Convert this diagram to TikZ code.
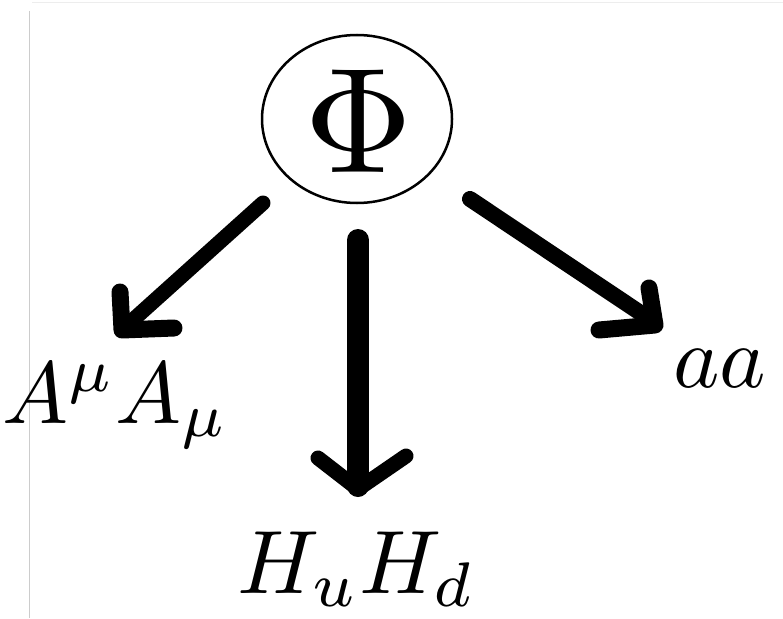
\documentclass[tikz,border=0pt]{standalone}
\usetikzlibrary{shapes.geometric}
\begin{document}
\begin{tikzpicture}[x=1pt,y=-1pt,
  shaft/.style={line width=#1,line cap=round},
  head/.style={line width=#1,line cap=round,line join=round},
  lbl/.style={inner sep=0pt,anchor=base west}]
\useasboundingbox (0,0) rectangle (783,618);
% frame lines
\draw[black!7,line width=1pt] (32,3) -- (783,3);
\draw[black!20,line width=1.6pt] (29.5,11) -- (29.5,618);
% central node
\node[draw,ellipse,line width=2.5pt,minimum width=190pt,minimum height=168pt,inner sep=0pt] (phi) at (357,119) {};
\node[inner sep=0pt] (phitext) at (359,121.5) {\scalebox{15}{$\Phi$}};
% labels
\node[lbl] (aa) at (673,387) {\scalebox{8.8}{$aa$}};
\node[lbl] (AA) at (2,423) {\scalebox{8.8}{$A^\mu A_\mu$}};
\node[lbl] (HH) at (237,593) {\scalebox{9}{$H_uH_d$}};
% left arrow
\coordinate (l0) at (263,203);
\coordinate (l1) at (124,328);
\coordinate (la) at (120,292);
\coordinate (lb) at (174,328);
\draw[shaft=15pt] (l0) -- (l1);
\draw[head=17pt] (la) -- (122,330) -- (lb);
% centre arrow
\coordinate (c0) at (358,240);
\coordinate (c1) at (358,486);
\coordinate (ca) at (318,458);
\coordinate (cb) at (406,456);
\draw[shaft=22pt] (c0) -- (c1);
\draw[head=15pt] (ca) -- (358,489) -- (cb);
% right arrow
\coordinate (r0) at (470,199);
\coordinate (r1) at (654,322);
\coordinate (ra) at (649,288);
\coordinate (rb) at (599,330);
\draw[shaft=16pt] (r0) -- (r1);
\draw[head=17pt] (ra) -- (655,325) -- (rb);
\end{tikzpicture}
\end{document}
